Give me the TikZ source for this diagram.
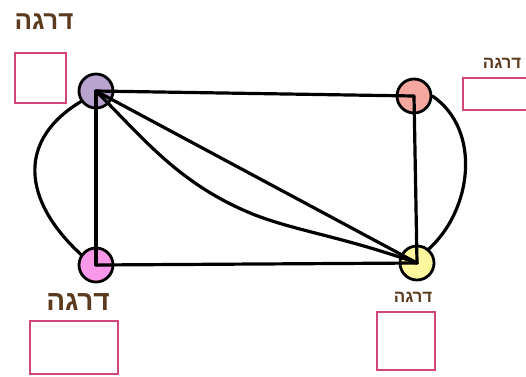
\documentclass[tikz,border=0pt]{standalone}
\usepackage{fontspec}
\newfontfamily\hebfont[Script=Hebrew]{Liberation Sans}
\TeXXeTstate=1
\definecolor{cpurple}{HTML}{B9A3CF}
\definecolor{csalmon}{HTML}{F5A8A0}
\definecolor{cpink}{HTML}{FA98EA}
\definecolor{cyellow}{HTML}{FDF8A0}
\definecolor{cbox}{HTML}{D2457A}
\definecolor{ctext}{HTML}{5B3A1E}
\begin{document}
\begin{tikzpicture}[x=1pt,y=-1pt,
  vert/.style={circle,minimum size=34pt,inner sep=0pt,draw=black,line width=2.8pt},
  edge/.style={draw=black,line width=3.2pt,line cap=round,line join=round},
  degbox/.style={draw=cbox,line width=2.4pt,inner sep=0pt,anchor=north west},
  deg/.style={text=ctext,font=\hebfont\bfseries,inner sep=0pt}]
\useasboundingbox (0,0) rectangle (526,376);
% vertices
\node[vert,fill=cpurple] (p) at (96,91) {};
\node[vert,fill=csalmon] (s) at (414,96) {};
\node[vert,fill=cpink] (k) at (96,265) {};
\node[vert,fill=cyellow] (y) at (417,263) {};
% edges
\draw[edge] (p.center) -- (s.center);
\draw[edge] (p.center) -- (k.center);
\draw[edge] (k.center) -- (y.center);
\draw[edge] (s.center) -- (y.center);
\draw[edge] (p.center) -- (y.center);
\draw[edge] (p.center) .. controls (145,140) and (180,185) .. (255,215)
  .. controls (300,232) and (340,236) .. (y.center);
\draw[edge] (p.215) .. controls (17,140) and (22,200) .. (k.145);
\draw[edge] (s.0) .. controls (482,130) and (472,210) .. (y.50);
% boxes
\node[degbox,minimum width=51pt,minimum height=50pt] (b1) at (14,52) {};
\node[degbox,minimum width=70pt,minimum height=32pt] (b2) at (462,77) {};
\node[degbox,minimum width=88pt,minimum height=53pt] (b3) at (29,320) {};
\node[degbox,minimum width=58pt,minimum height=58pt] (b4) at (376,311) {};
% labels
\node[deg,font=\hebfont\bfseries\fontsize{26}{26}\selectfont] (t1) at (44,22) {\beginR דרגה\endR};
\node[deg,font=\hebfont\bfseries\fontsize{17}{17}\selectfont] (t2) at (502,63) {\beginR דרגה\endR};
\node[deg,font=\hebfont\bfseries\fontsize{28}{28}\selectfont] (t3) at (78,302) {\beginR דרגה\endR};
\node[deg,font=\hebfont\bfseries\fontsize{17}{17}\selectfont] (t4) at (413,297) {\beginR דרגה\endR};
\end{tikzpicture}
\end{document}
